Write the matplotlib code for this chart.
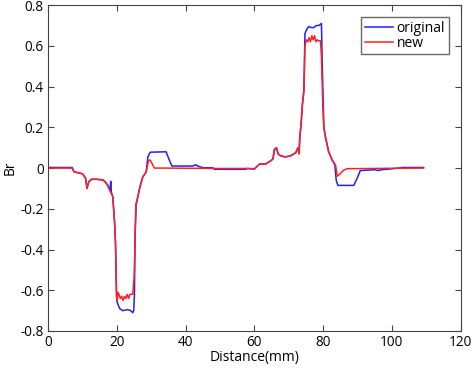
import numpy as np
import matplotlib.pyplot as plt

# Br profile, as (distance, Br) pairs
orig_pts = np.array([
    (0, 0.003), (7, 0.003), (7.5, -0.018), (8, -0.02), (10, -0.028), (10.9, -0.05),
    (11.3, -0.1), (11.6, -0.08), (11.9, -0.066), (12.6, -0.055), (14, -0.055),
    (16, -0.058), (16.7, -0.07), (17.4, -0.085), (18.0, -0.11), (18.2, -0.065),
    (18.4, -0.12), (18.8, -0.14), (19.3, -0.26), (19.6, -0.37), (19.9, -0.63),
    (20.1, -0.66), (20.8, -0.69), (21.7, -0.70), (23.2, -0.695), (24.0, -0.70),
    (24.6, -0.71), (24.9, -0.70), (25.1, -0.62), (25.3, -0.32), (25.6, -0.18),
    (26.1, -0.14), (26.6, -0.1), (27.5, -0.044), (28.5, -0.02), (29.0, 0.055),
    (29.7, 0.078), (34.3, 0.08), (35.3, 0.038), (36, 0.01), (42, 0.01),
    (43, 0.016), (43.5, 0.01), (45, 0.002), (48, 0.001), (48.3, -0.006),
    (57.3, -0.006), (58, -0.002), (60, -0.005), (61.5, 0.02), (63.3, 0.02),
    (64.7, 0.035), (65.4, 0.045), (65.8, 0.09), (66.4, 0.1), (66.9, 0.07),
    (67.6, 0.06), (69, 0.055), (70.5, 0.06), (72, 0.075), (72.7, 0.1), (73, 0.07),
    (73.2, 0.15), (73.6, 0.22), (74, 0.32), (74.4, 0.38), (74.7, 0.66),
    (75.2, 0.68), (75.8, 0.695), (76.5, 0.69), (77.3, 0.69), (78, 0.70),
    (78.7, 0.70), (79.5, 0.71), (79.7, 0.53), (80.2, 0.2), (80.7, 0.15),
    (81.6, 0.08), (82.6, 0.04), (83.4, 0.015), (83.8, -0.06), (84.3, -0.085),
    (88.9, -0.085), (89.9, -0.05), (90.8, -0.012), (93, -0.01), (95, -0.008),
    (96, -0.012), (97, -0.008), (99, -0.005), (102, 0.0), (103, 0.003),
    (109.2, 0.003),
])
new_pts = np.array([
    (0, 0), (7, 0), (7.5, -0.018), (8, -0.02), (10, -0.028), (10.9, -0.05),
    (11.3, -0.1), (11.6, -0.08), (11.9, -0.066), (12.6, -0.055), (14, -0.055),
    (16, -0.058), (16.7, -0.07), (17.4, -0.09), (18.2, -0.12), (18.8, -0.14),
    (19.3, -0.26), (19.6, -0.37), (19.9, -0.63), (20.1, -0.65), (20.3, -0.61),
    (20.6, -0.62), (21, -0.64), (21.4, -0.63), (21.8, -0.65), (22.2, -0.63),
    (22.6, -0.64), (23, -0.62), (23.4, -0.64), (23.8, -0.62), (24.2, -0.62),
    (24.6, -0.62), (25.0, -0.54), (25.3, -0.34), (25.5, -0.18), (26.1, -0.14),
    (26.6, -0.1), (27.5, -0.044), (28.5, -0.02), (29.2, 0.038), (29.6, 0.04),
    (30, 0.03), (30.9, 0.0), (35, 0.0), (40, -0.001), (45, -0.001), (48, -0.002),
    (58, -0.002), (60, -0.003), (61.5, 0.02), (63.3, 0.02), (64.7, 0.035),
    (65.4, 0.045), (65.8, 0.09), (66.4, 0.1), (66.9, 0.07), (67.6, 0.06),
    (69, 0.055), (70.5, 0.06), (72, 0.075), (72.7, 0.1), (73, 0.07), (73.2, 0.15),
    (73.6, 0.22), (74, 0.32), (74.4, 0.38), (74.7, 0.6), (75.1, 0.63),
    (75.5, 0.62), (75.9, 0.64), (76.3, 0.62), (76.7, 0.65), (77.1, 0.63),
    (77.5, 0.65), (77.9, 0.62), (78.3, 0.63), (78.7, 0.625), (79.2, 0.625),
    (79.5, 0.55), (79.9, 0.3), (80.2, 0.2), (80.7, 0.15), (81.6, 0.08),
    (82.6, 0.04), (83.6, 0.015), (84.1, -0.04), (84.5, -0.035), (86, -0.01),
    (87, -0.003), (95, -0.002), (100, -0.001), (109.2, 0),
])
x_orig, y_orig = orig_pts.T
x_new, y_new = new_pts.T

plt.rcParams['font.family'] = ['Open Sans', 'DejaVu Sans']

fig = plt.figure(figsize=(4.72, 3.69), dpi=100)
ax = fig.add_axes([0.102, 0.103, 0.874, 0.883])

ax.plot(x_orig, y_orig, color='#1f1fff', lw=1.1, label='original')
ax.plot(x_new, y_new, color='#ff2020', lw=1.1, label='new')

ax.set_xlim(0, 120)
ax.set_ylim(-0.8, 0.8)
ax.set_xticks(np.arange(0, 121, 20))
ax.set_yticks(np.arange(-0.8, 0.81, 0.2))
ax.set_yticklabels(['-0.8', '-0.6', '-0.4', '-0.2', '0', '0.2', '0.4', '0.6', '0.8'])
ax.tick_params(direction='in', top=True, right=True, labelsize=9.8, length=4,
               color='#444444', pad=3)
for s in ax.spines.values():
    s.set_color('#444444')
    s.set_linewidth(0.8)

ax.set_xlabel('Distance(mm)', fontsize=10, labelpad=0)
ax.set_ylabel('Br', fontsize=10, labelpad=2)

leg = ax.legend(loc='upper right', fontsize=10, fancybox=False, handlelength=2.0,
                borderpad=0.25, labelspacing=0.0, handletextpad=0.3,
                borderaxespad=0, bbox_to_anchor=(0.971, 0.963))
leg.get_frame().set_edgecolor('#444444')
leg.get_frame().set_linewidth(1.0)

fig.savefig('out.png', dpi=100)
